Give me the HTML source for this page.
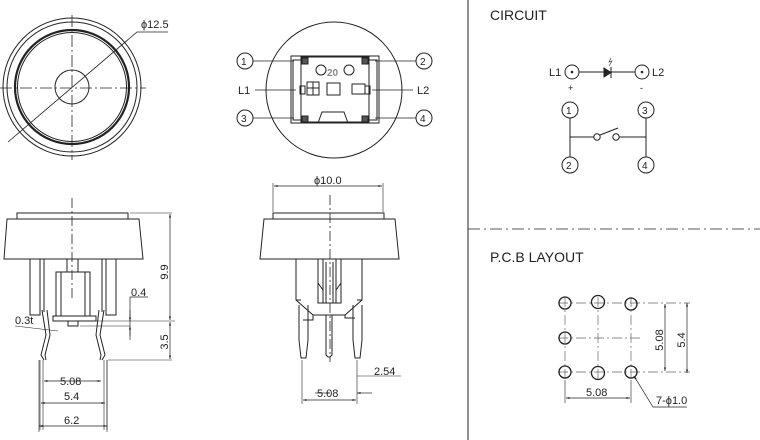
<!DOCTYPE html>
<html><head><meta charset="utf-8"><style>
html,body{margin:0;padding:0;background:#fff;width:760px;height:440px;overflow:hidden}
svg{display:block}
text{font-family:"Liberation Sans",Arial,sans-serif;fill:#222}
</style></head><body>
<svg width="760" height="440" viewBox="0 0 760 440" xmlns="http://www.w3.org/2000/svg">
<defs>
<marker id="a" viewBox="0 0 10 10" refX="10" refY="5" markerWidth="7" markerHeight="5" orient="auto-start-reverse"><path d="M0,2L10,5L0,8z" fill="#222"/></marker>
</defs>
<g fill="none" stroke="#222" stroke-width="1">
<circle cx="72" cy="87" r="69"/>
<circle cx="72" cy="87" r="65"/>
<circle cx="72" cy="87" r="57" stroke-width="2.2"/>
<circle cx="72" cy="87" r="54.5"/>
<circle cx="72" cy="87" r="17"/>
<path d="M0,88H146" stroke-dasharray="12,3,2,3" stroke-width="0.8"/>
<path d="M72,15V160" stroke-dasharray="12,3,2,3" stroke-width="0.8"/>
<path d="M8,142L137,32H168" stroke-width="0.8"/>
<circle cx="334" cy="90" r="68"/>
<rect x="291" y="56" width="88" height="67"/>
<rect x="301" y="57" width="68" height="65"/>
<rect x="293" y="60" width="8" height="60"/>
<rect x="369" y="60" width="8" height="60"/>
<rect x="302" y="58" width="6" height="6" fill="#555"/><rect x="362" y="58" width="6" height="6" fill="#555"/>
<rect x="302" y="116" width="6" height="6" fill="#555"/><rect x="362" y="116" width="6" height="6" fill="#555"/>
<rect x="300" y="86" width="5" height="8"/><rect x="365" y="86" width="5" height="8"/>
<circle cx="321" cy="70" r="5"/><circle cx="349" cy="70" r="5"/>
<rect x="307" y="82" width="12" height="13"/><path d="M313,82V95M307,88H319"/>
<rect x="327" y="83" width="13" height="12"/>
<rect x="352" y="84" width="13" height="10"/>
<path d="M318,123L322,112H344L348,123"/>
<circle cx="245" cy="61" r="8"/><circle cx="424" cy="61" r="8"/>
<circle cx="245" cy="118" r="8"/><circle cx="424" cy="118" r="8"/>
<path d="M253,61H294M416,61H375M253,118H294M416,118H375M255,90H296M413,90H372" stroke-width="0.8"/>
<rect x="17" y="213" width="111" height="6"/>
<path d="M7,219H139L143,259H4Z"/>
<path d="M72,198V300" stroke-dasharray="10,3,2,3" stroke-width="0.8"/>
<rect x="30" y="259" width="10" height="56"/><path d="M40,259V312M44,259V312"/>
<rect x="106" y="259" width="10" height="56"/><path d="M106,259V312M102,259V312"/>
<rect x="67" y="259" width="11" height="13"/>
<rect x="56" y="272" width="34" height="44"/><path d="M61,272V316M85,272V316"/>
<rect x="53" y="316" width="43" height="5"/>
<rect x="68" y="321" width="10" height="5"/>
<path d="M42,310L46,335L41,355L44,360M47,310L50,335L45,355L46,360" />
<path d="M104,310L100,335L105,355L102,360M99,310L96,335L101,355L100,360" />
<path d="M43,360V430M104,360V430M40,360V430M107,360V430" stroke-width="0.6"/>
<path d="M130,213H172M80,321H175M80,326H130M108,360H172" stroke-width="0.6"/>
<path d="M170,214V320" marker-start="url(#a)" marker-end="url(#a)" stroke-width="0.7"/>
<path d="M170,322V359" marker-start="url(#a)" marker-end="url(#a)" stroke-width="0.7"/>
<path d="M148,297H130V340" stroke-width="0.7"/>
<path d="M130,310V321" marker-end="url(#a)" stroke-width="0.7"/>
<path d="M130,336V326" marker-end="url(#a)" stroke-width="0.7"/>
<path d="M15,326L58,331" stroke-width="0.6"/>
<path d="M44,381H101" marker-start="url(#a)" marker-end="url(#a)" stroke-width="0.7"/>
<path d="M41,403H105" marker-start="url(#a)" marker-end="url(#a)" stroke-width="0.7"/>
<path d="M39,426H107" marker-start="url(#a)" marker-end="url(#a)" stroke-width="0.7"/>
<path d="M39,360V432M107,360V432" stroke-width="0.6"/>
<rect x="273" y="213" width="111" height="6"/>
<path d="M264,219H395L399,259H260Z"/>
<path d="M330,195V362" stroke-dasharray="10,3,2,3" stroke-width="0.8"/>
<path d="M273,212V183M383,212V183" stroke-width="0.6"/>
<path d="M274,186H382" marker-start="url(#a)" marker-end="url(#a)" stroke-width="0.7"/>
<path d="M296,259V300L313,315H345L362,300V259"/>
<path d="M296,300H301M362,300H357M313,315V320H303M345,315V318H355"/>
<rect x="318" y="259" width="23" height="44"/>
<path d="M323,259V303M336,259V303M326,262V303M333,262V303M318,283L323,290M341,283L336,290"/>
<path d="M299,305V340L301,358H306L308,340V305"/>
<path d="M353,305V340L355,358H360L362,340V305"/>
<path d="M326,315V355L328,357H330L332,355V315"/>
<path d="M302,360V404M357,360V404" stroke-width="0.6"/>
<path d="M315,393H330" marker-end="url(#a)" stroke-width="0.7"/>
<path d="M372,393H357" marker-end="url(#a)" stroke-width="0.7"/>
<path d="M357,376H401" stroke-width="0.6"/>
<path d="M303,400H356" marker-start="url(#a)" marker-end="url(#a)" stroke-width="0.7"/>
<path d="M468,0V440" stroke-width="1"/>
<path d="M468,229H760" stroke-dasharray="12,4,2,4" stroke-width="0.8"/>
<circle cx="572" cy="72" r="7"/><circle cx="642" cy="72" r="7"/>
<circle cx="572" cy="72" r="0.8" fill="#222"/><circle cx="642" cy="72" r="0.8" fill="#222"/>
<path d="M579,72H635"/>
<path d="M604,68V77L611,72.5Z" fill="#222"/><path d="M611,67V78"/>
<path d="M609,66L612,61L609,62L611,58" stroke-width="0.6"/>
<circle cx="570" cy="110" r="8"/><circle cx="646" cy="110" r="8"/>
<circle cx="570" cy="165" r="8"/><circle cx="646" cy="165" r="8"/>
<path d="M570,118V157M646,118V157M570,137H594M619,137H646M600,135L618,128"/>
<circle cx="597" cy="137" r="3.2"/><circle cx="616" cy="137" r="3.2"/>
<path d="M565,297V380M598,297V380M631,297V380M558,303H690M558,338H642M558,372H690" stroke="#666" stroke-dasharray="10,3,2,3" stroke-width="0.7"/>
<g stroke-width="1.3">
<circle cx="565" cy="303" r="6"/><circle cx="598" cy="302" r="6.5"/><circle cx="631" cy="304" r="6"/>
<circle cx="565" cy="338" r="6"/><circle cx="565" cy="372" r="6"/><circle cx="598" cy="373" r="6.5"/><circle cx="631" cy="372" r="6"/>
</g>
<path d="M665,304V371" marker-start="url(#a)" marker-end="url(#a)" stroke-width="0.7"/>
<path d="M687,303V373" marker-start="url(#a)" marker-end="url(#a)" stroke-width="0.7"/>
<path d="M565,380V403M631,380V403" stroke-width="0.6"/>
<path d="M566,398H630" marker-start="url(#a)" marker-end="url(#a)" stroke-width="0.7"/>
<path d="M687,407H653L634,376" stroke-width="0.7" marker-end="url(#a)"/>
</g>
<g font-size="11">
<text x="141" y="28">ϕ12.5</text>
<text x="241" y="65" font-size="10">1</text><text x="420" y="65" font-size="10">2</text>
<text x="241" y="122" font-size="10">3</text><text x="420" y="122" font-size="10">4</text>
<text x="238" y="94">L1</text><text x="417" y="94">L2</text>
<text x="327" y="76" font-size="10" font-weight="bold" style="fill:#888">20</text>
<text x="60" y="385">5.08</text><text x="64" y="400">5.4</text><text x="64" y="424">6.2</text>
<text x="131" y="296">0.4</text>
<text x="15" y="324">0.3t</text>
<text transform="translate(168,272) rotate(-90)" text-anchor="middle">9.9</text>
<text transform="translate(168,342) rotate(-90)" text-anchor="middle">3.5</text>
<text x="314" y="184">ϕ10.0</text>
<text x="374" y="375">2.54</text>
<text x="317" y="397">5.08</text>
<text x="490" y="20" font-size="14">CIRCUIT</text>
<text x="549" y="76">L1</text><text x="652" y="76">L2</text>
<text x="568" y="91" font-size="9">+</text><text x="640" y="91" font-size="9">-</text>
<text x="566" y="114" font-size="10">1</text><text x="642" y="114" font-size="10">3</text>
<text x="566" y="169" font-size="10">2</text><text x="642" y="169" font-size="10">4</text>
<text x="490" y="262" font-size="14">P.C.B LAYOUT</text>
<text transform="translate(663,340) rotate(-90)" text-anchor="middle">5.08</text>
<text transform="translate(685,340) rotate(-90)" text-anchor="middle">5.4</text>
<text x="586" y="396">5.08</text>
<text x="656" y="404">7-ϕ1.0</text>
</g>
</svg>
</body></html>
